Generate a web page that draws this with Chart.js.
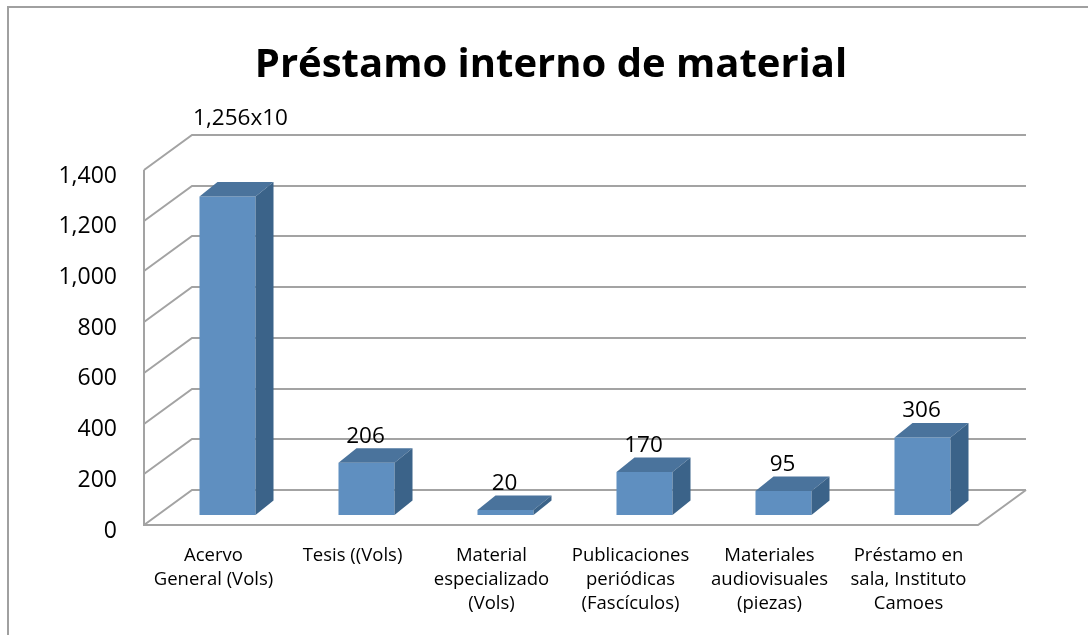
<!DOCTYPE html>
<html>
<head>
<meta charset="utf-8">
<script src="https://cdn.jsdelivr.net/npm/chart.js@4.4.1/dist/chart.umd.min.js"></script>
<style>
  html, body { margin: 0; padding: 0; background: #ffffff; }
  #wrap { width: 1088px; height: 635px; position: relative; }
</style>
</head>
<body>
<div id="wrap"><canvas id="c" width="1088" height="635"></canvas></div>
<script>
// ---- data ----
const categories = [
  ["Acervo", "General (Vols)"],
  ["Tesis ((Vols)"],
  ["Material", "especializado", "(Vols)"],
  ["Publicaciones", "periódicas", "(Fascículos)"],
  ["Materiales", "audiovisuales", "(piezas)"],
  ["Préstamo en", "sala, Instituto", "Camoes"]
];
const values = [1256, 206, 20, 170, 95, 306];
const valueLabels = ["1,256x10", "206", "20", "170", "95", "306"];
const yTicks = [0, 200, 400, 600, 800, 1000, 1200, 1400];
const titleText = "Préstamo interno de material";

// ---- style / geometry ----
const FONT = "'Open Sans', 'Liberation Sans', sans-serif";
const WALL_DX = 48, WALL_DY = -35;     // depth of the floor / side wall
const BAR_SX = 14, BAR_SY = -10;       // bars sit in the middle of the depth
const BAR_DX = 18, BAR_DY = -14.5;     // depth of each bar
const GRID_COLOR = '#a3a3a3';
const FRONT = '#5f8fc0', TOP = '#4a739c', SIDE = '#3b6389';
const labelNudge = [{dx: 14, dy: -51}, {dx: 0, dy: 0}, {dx: 0, dy: 0}, {dx: 0, dy: 0}, {dx: 0, dy: 0}, {dx: 0, dy: 0}];

const threeD = {
  id: 'threeD',
  beforeDatasetsDraw(chart) {
    const ctx = chart.ctx, ys = chart.scales.y, ca = chart.chartArea;
    ctx.save();
    ctx.strokeStyle = GRID_COLOR;
    ctx.lineWidth = 2;
    ctx.lineJoin = 'miter';
    yTicks.forEach(v => {
      const y = Math.round(ys.getPixelForValue(v));
      ctx.beginPath();
      ctx.moveTo(ca.left, y);
      ctx.lineTo(ca.left + WALL_DX, y + WALL_DY);
      ctx.lineTo(ca.right + WALL_DX, y + WALL_DY);
      ctx.stroke();
    });
    const yTop = Math.round(ys.getPixelForValue(yTicks[yTicks.length - 1]));
    const y0 = Math.round(ys.getPixelForValue(0));
    ctx.beginPath();
    ctx.moveTo(ca.left, yTop);
    ctx.lineTo(ca.left, y0);
    ctx.lineTo(ca.right, y0);
    ctx.lineTo(ca.right + WALL_DX, y0 + WALL_DY);
    ctx.stroke();
    ctx.restore();
  },
  beforeDatasetDraw(chart) {
    chart.ctx.save();
    chart.ctx.translate(BAR_SX, BAR_SY);
  },
  afterDatasetDraw(chart, args) {
    const ctx = chart.ctx;
    args.meta.data.forEach(el => {
      const p = el.getProps(['x', 'y', 'base', 'width'], true);
      const l = p.x - p.width / 2, r = p.x + p.width / 2, t = p.y, b = p.base;
      ctx.fillStyle = TOP;
      ctx.beginPath();
      ctx.moveTo(l, t); ctx.lineTo(l + BAR_DX, t + BAR_DY);
      ctx.lineTo(r + BAR_DX, t + BAR_DY); ctx.lineTo(r, t); ctx.closePath();
      ctx.fill();
      ctx.fillStyle = SIDE;
      ctx.beginPath();
      ctx.moveTo(r, t); ctx.lineTo(r + BAR_DX, t + BAR_DY);
      ctx.lineTo(r + BAR_DX, b + BAR_DY); ctx.lineTo(r, b); ctx.closePath();
      ctx.fill();
    });
    ctx.restore();
  },
  afterDatasetsDraw(chart) {
    const ctx = chart.ctx;
    const meta = chart.getDatasetMeta(0);
    ctx.save();
    ctx.fillStyle = '#000';
    ctx.textAlign = 'center';
    ctx.textBaseline = 'middle';
    ctx.font = "22.5px " + FONT;
    meta.data.forEach((el, i) => {
      const p = el.getProps(['x', 'y'], true);
      const n = labelNudge[i];
      ctx.fillText(valueLabels[i], p.x + BAR_SX - 1 + n.dx, p.y + BAR_SY + BAR_DY - 12 + n.dy);
    });
    // title
    ctx.font = "bold 40px " + FONT;
    ctx.fillText(titleText, 551, 66);
    // frame
    ctx.strokeStyle = '#a0a0a0';
    ctx.lineWidth = 2;
    ctx.beginPath();
    ctx.moveTo(8, 635); ctx.lineTo(8, 7); ctx.lineTo(1088, 7);
    ctx.stroke();
    ctx.restore();
  }
};

new Chart(document.getElementById('c'), {
  type: 'bar',
  data: {
    labels: categories,
    datasets: [{
      data: values,
      backgroundColor: FRONT,
      borderWidth: 0,
      categoryPercentage: 1.0,
      barPercentage: 0.403,
      clip: false
    }]
  },
  options: {
    responsive: false,
    animation: false,
    devicePixelRatio: 1,
    layout: { padding: { left: 0, right: 110, top: 170, bottom: 0 } },
    plugins: {
      legend: { display: false },
      title: { display: false },
      tooltip: { enabled: false }
    },
    scales: {
      x: {
        grid: { display: false, drawTicks: false },
        border: { display: false },
        ticks: {
          color: '#000',
          font: { family: FONT, size: 18.5, lineHeight: 1.3 },
          padding: 19,
          maxRotation: 0,
          minRotation: 0,
          autoSkip: false
        },
        afterFit(s) { s.height = 110; }
      },
      y: {
        min: 0,
        max: 1400,
        grid: { display: false, drawTicks: false },
        border: { display: false },
        afterBuildTicks(s) { s.ticks = yTicks.map(v => ({ value: v })); },
        ticks: {
          color: '#000',
          font: { family: FONT, size: 23, lineHeight: '12px' },
          padding: 27,
          callback: v => ['', v.toLocaleString('en-US')]
        },
        afterFit(s) { s.width = 144; }
      }
    }
  },
  plugins: [threeD]
});
</script>
</body>
</html>
